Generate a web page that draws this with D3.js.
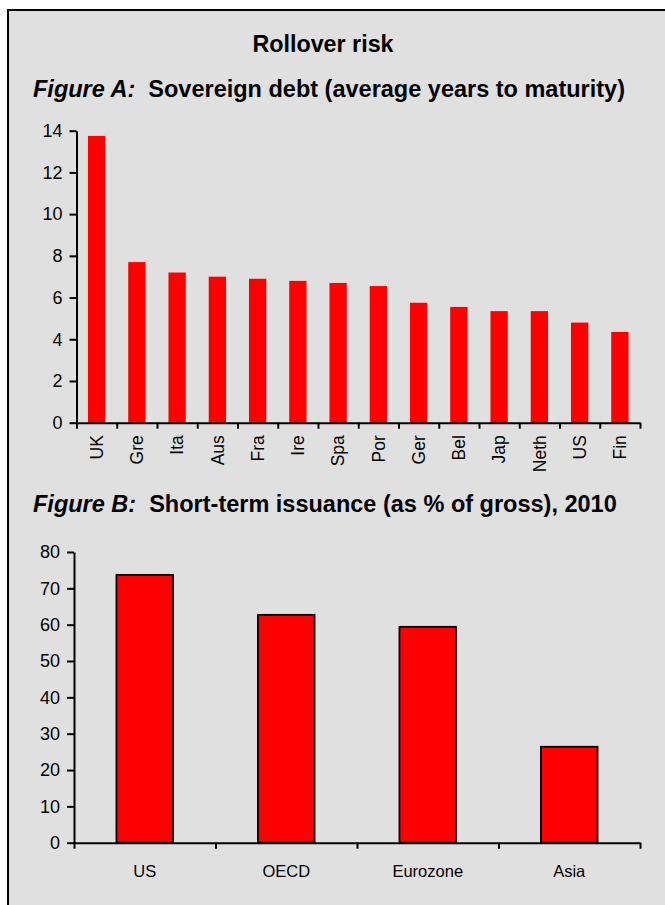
<!DOCTYPE html>
<html>
<head>
<meta charset="utf-8">
<script src="https://cdn.jsdelivr.net/npm/d3@7"></script>
<style>
  html, body { margin: 0; padding: 0; background: #ffffff; }
  svg { display: block; }
  text { font-family: "Liberation Sans", Arial, Helvetica, sans-serif; fill: #000; }
</style>
</head>
<body>
<svg id="chart" width="665" height="905"></svg>
<script>
// Figure A: sovereign debt, average years to maturity
const countriesA = ["UK", "Gre", "Ita", "Aus", "Fra", "Ire", "Spa", "Por", "Ger", "Bel", "Jap", "Neth", "US", "Fin"];
const maturityA = [13.75, 7.7, 7.2, 7.0, 6.9, 6.8, 6.7, 6.55, 5.75, 5.55, 5.35, 5.35, 4.8, 4.35];
const ticksA = [0, 2, 4, 6, 8, 10, 12, 14];

// Figure B: short-term issuance as % of gross, 2010
const regionsB = ["US", "OECD", "Eurozone", "Asia"];
const shareB = [73.7, 62.7, 59.4, 26.4];
const ticksB = [0, 10, 20, 30, 40, 50, 60, 70, 80];

const svg = d3.select("#chart");

// panel background with frame
svg.append("rect")
  .attr("x", 8).attr("y", 10)
  .attr("width", 720).attr("height", 1000)
  .attr("fill", "#e0e0e0")
  .attr("stroke", "#000").attr("stroke-width", 2);

svg.append("text")
  .attr("x", 323).attr("y", 52)
  .attr("text-anchor", "middle")
  .attr("font-size", 23.3).attr("font-weight", "bold")
  .text("Rollover risk");

function figureTitle(y, label, rest) {
  const t = svg.append("text").attr("x", 33).attr("y", y)
    .attr("font-size", 23.5).attr("font-weight", "bold");
  t.append("tspan").attr("font-style", "italic").text(label);
  t.append("tspan").text("\u00a0 " + rest);
}
figureTitle(97, "Figure A:", "Sovereign debt (average years to maturity)");
figureTitle(512, "Figure B:", "Short-term issuance (as % of gross), 2010");

function styleAxis(g) {
  g.selectAll("path.domain").attr("stroke", "#000").attr("stroke-width", 2);
  g.selectAll(".tick line").attr("stroke", "#000").attr("stroke-width", 2);
}

// ---------- Figure A ----------
{
  const x0 = 76.5, x1 = 640, yBase = 422.7, yTop = 130.7;
  const x = d3.scaleBand().domain(countriesA).range([x0, x1]).paddingInner(0.57).paddingOuter(0.285);
  const y = d3.scaleLinear().domain([0, 14]).range([yBase, yTop]);
  const g = svg.append("g");

  g.selectAll("rect.bar").data(countriesA).join("rect")
    .attr("class", "bar")
    .attr("x", d => x(d))
    .attr("width", x.bandwidth())
    .attr("y", (d, i) => y(maturityA[i]))
    .attr("height", (d, i) => yBase - y(maturityA[i]))
    .attr("fill", "#ff0000");

  const yAxis = g.append("g").attr("transform", `translate(${x0},0)`)
    .call(d3.axisLeft(y).tickValues(ticksA).tickSize(7).tickPadding(7).tickSizeOuter(0));
  styleAxis(yAxis);
  yAxis.selectAll(".tick text").attr("font-size", 18).attr("font-family", null);

  // category boundaries on the x axis
  const step = x.step();
  const bounds = d3.range(countriesA.length + 1).map(i => x0 + i * step);
  const xAxis = g.append("g").attr("transform", `translate(0,${yBase})`)
    .call(d3.axisBottom(d3.scaleLinear().domain([x0, x1]).range([x0, x1]))
      .tickValues(bounds).tickSize(6).tickSizeOuter(0).tickFormat(""));
  styleAxis(xAxis);

  g.selectAll("text.cat").data(countriesA).join("text")
    .attr("class", "cat")
    .attr("transform", d => `translate(${x(d) + x.bandwidth() / 2},${yBase + 12.5}) rotate(-90)`)
    .attr("dy", "0.36em")
    .attr("text-anchor", "end")
    .attr("font-size", 17.5)
    .text(d => d);
}

// ---------- Figure B ----------
{
  const x0 = 74, x1 = 640, yBase = 842.7, yTop = 552;
  const x = d3.scaleBand().domain(regionsB).range([x0, x1]).paddingInner(0.6).paddingOuter(0.3);
  const y = d3.scaleLinear().domain([0, 80]).range([yBase, yTop]);
  const g = svg.append("g");

  g.selectAll("rect.bar").data(regionsB).join("rect")
    .attr("class", "bar")
    .attr("x", d => x(d))
    .attr("width", x.bandwidth())
    .attr("y", (d, i) => y(shareB[i]))
    .attr("height", (d, i) => yBase - y(shareB[i]))
    .attr("fill", "#ff0000")
    .attr("stroke", "#000").attr("stroke-width", 1.8);

  const yAxis = g.append("g").attr("transform", `translate(${x0},0)`)
    .call(d3.axisLeft(y).tickValues(ticksB).tickSize(7).tickPadding(7).tickSizeOuter(0));
  styleAxis(yAxis);
  yAxis.selectAll(".tick text").attr("font-size", 18).attr("font-family", null);

  const step = x.step();
  const bounds = d3.range(regionsB.length + 1).map(i => x0 + i * step);
  const xAxis = g.append("g").attr("transform", `translate(0,${yBase})`)
    .call(d3.axisBottom(d3.scaleLinear().domain([x0, x1]).range([x0, x1]))
      .tickValues(bounds).tickSize(6).tickSizeOuter(0).tickFormat(""));
  styleAxis(xAxis);

  g.selectAll("text.cat").data(regionsB).join("text")
    .attr("class", "cat")
    .attr("x", d => x(d) + x.bandwidth() / 2)
    .attr("y", 877)
    .attr("text-anchor", "middle")
    .attr("font-size", 16.5)
    .text(d => d);
}
</script>
</body>
</html>
